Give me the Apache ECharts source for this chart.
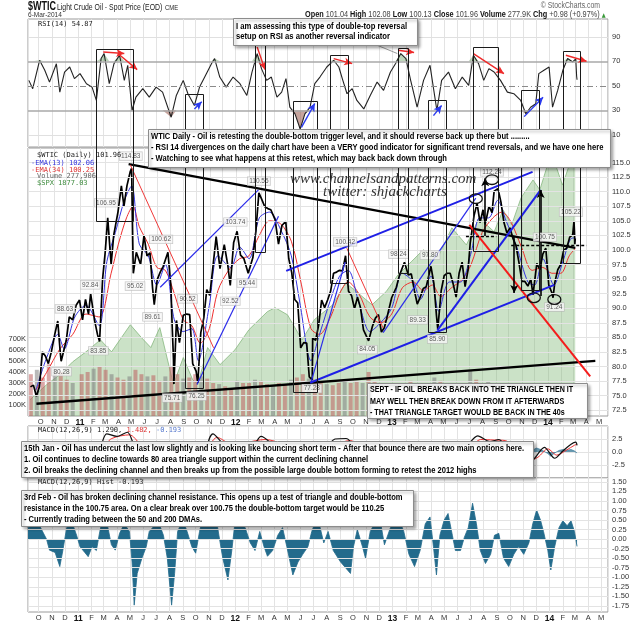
<!DOCTYPE html>
<html><head><meta charset="utf-8"><title>$WTIC Light Crude Oil</title>
<script src="https://cdn.jsdelivr.net/npm/echarts@6/dist/echarts.min.js"></script>
<style>html,body{margin:0;padding:0;background:#fff;}#chart{width:640px;height:622px;}</style>
</head><body><div id="chart"></div>
<script>
// ---------------- DATA ----------------
const X_RANGE = ['2010-09-06', '2014-05-17'];

const price = [
['2010-09-07',76.5],['2010-09-14',76.8],['2010-09-21',74.9],['2010-09-28',76.5],
['2010-10-05',82.5],['2010-10-12',81.8],['2010-10-19',80.5],['2010-10-26',82.5],
['2010-11-03',85.5],['2010-11-10',87.8],['2010-11-16',82.3],['2010-11-18',80.9],['2010-11-30',84.5],
['2010-12-07',88.5],['2010-12-15',88.0],['2010-12-23',90.5],['2010-12-31',91.4],
['2011-01-07',88.0],['2011-01-14',91.5],['2011-01-21',89.0],['2011-01-26',92.5],
['2011-02-04',88.0],['2011-02-11',85.5],['2011-02-16',84.3],['2011-02-23',95.0],
['2011-03-01',99.5],['2011-03-07',105.5],['2011-03-15',97.5],['2011-03-21',102.5],['2011-03-31',106.5],
['2011-04-08',111.0],['2011-04-14',107.5],['2011-04-21',111.0],['2011-04-29',113.5],
['2011-05-02',114.0],['2011-05-05',99.8],['2011-05-06',96.0],['2011-05-13',99.6],['2011-05-23',97.5],['2011-05-31',102.5],
['2011-06-07',99.0],['2011-06-14',99.5],['2011-06-20',93.5],['2011-06-24',90.6],
['2011-07-01',94.9],['2011-07-08',96.2],['2011-07-15',97.2],['2011-07-26',99.6],
['2011-08-02',93.8],['2011-08-05',86.9],['2011-08-08',81.3],['2011-08-09',77.0],['2011-08-15',87.9],['2011-08-22',84.1],['2011-08-31',88.8],
['2011-09-08',89.0],['2011-09-15',88.9],['2011-09-22',80.5],['2011-09-30',79.2],
['2011-10-04',77.2],['2011-10-11',85.8],['2011-10-18',88.3],['2011-10-25',93.2],
['2011-11-01',92.2],['2011-11-08',96.8],['2011-11-16',102.3],['2011-11-25',96.8],
['2011-12-05',100.9],['2011-12-13',97.5],['2011-12-19',93.9],['2011-12-27',101.3],
['2012-01-04',103.2],['2012-01-12',99.1],['2012-01-20',98.5],['2012-01-30',96.0],
['2012-02-10',98.7],['2012-02-17',103.2],['2012-02-24',109.8],
['2012-03-01',108.8],['2012-03-09',107.4],['2012-03-16',107.1],['2012-03-23',106.9],
['2012-04-02',105.2],['2012-04-10',101.0],['2012-04-18',104.2],['2012-04-27',104.9],
['2012-05-04',98.5],['2012-05-11',96.1],['2012-05-18',91.5],['2012-05-25',90.9],
['2012-06-01',83.2],['2012-06-08',84.1],['2012-06-15',84.0],['2012-06-21',78.2],['2012-06-28',77.7],
['2012-06-29',84.9],['2012-07-06',84.5],['2012-07-13',87.1],['2012-07-20',91.4],['2012-07-27',90.1],
['2012-08-03',91.4],['2012-08-10',92.9],['2012-08-17',96.0],['2012-08-24',96.2],['2012-08-31',96.5],
['2012-09-07',96.4],['2012-09-14',99.0],['2012-09-21',92.9],['2012-09-28',92.2],
['2012-10-05',89.9],['2012-10-12',91.9],['2012-10-19',90.1],['2012-10-26',86.3],
['2012-11-07',84.4],['2012-11-16',86.9],['2012-11-23',88.3],['2012-11-30',88.9],
['2012-12-07',85.9],['2012-12-14',86.7],['2012-12-21',88.7],['2012-12-31',91.8],
['2013-01-11',93.6],['2013-01-18',95.6],['2013-01-30',97.9],
['2013-02-08',95.7],['2013-02-15',95.9],['2013-02-22',93.1],['2013-03-01',90.7],
['2013-03-08',91.9],['2013-03-15',93.4],['2013-03-22',93.7],['2013-04-02',97.2],
['2013-04-09',94.2],['2013-04-15',88.7],['2013-04-18',86.4],['2013-04-26',93.0],
['2013-05-03',95.6],['2013-05-10',96.0],['2013-05-17',96.0],['2013-05-24',94.2],['2013-05-31',91.9],
['2013-06-07',96.0],['2013-06-14',97.9],['2013-06-21',93.7],['2013-06-28',96.6],
['2013-07-03',101.2],['2013-07-12',105.9],['2013-07-19',108.0],['2013-07-26',104.7],
['2013-08-02',106.9],['2013-08-07',104.4],['2013-08-16',107.5],['2013-08-23',106.4],['2013-08-28',110.1],
['2013-09-06',110.5],['2013-09-13',108.2],['2013-09-20',104.7],['2013-09-27',102.9],
['2013-10-04',103.8],['2013-10-11',102.0],['2013-10-18',100.8],['2013-10-25',97.9],
['2013-11-01',94.6],['2013-11-08',94.6],['2013-11-15',93.8],['2013-11-22',95.0],['2013-11-27',92.3],
['2013-12-06',97.7],['2013-12-13',96.6],['2013-12-20',99.3],['2013-12-27',100.3],
['2014-01-03',93.96],['2014-01-10',92.7],['2014-01-13',91.8],['2014-01-17',94.4],['2014-01-24',96.6],['2014-01-31',97.5],
['2014-02-07',100.0],['2014-02-14',100.3],['2014-02-21',102.2],['2014-02-28',102.6],
['2014-03-03',104.9],['2014-03-04',103.3],['2014-03-05',101.0],['2014-03-06',101.96]
];

const ema13 = [
['2010-09-20',76],['2010-10-15',81.5],['2010-11-10',85.5],['2010-11-25',83],['2010-12-20',88.5],
['2011-01-15',90.5],['2011-02-15',87],['2011-03-05',98],['2011-03-25',103],['2011-04-15',108.5],
['2011-05-02',111],['2011-05-20',101],['2011-06-10',99],['2011-06-30',94],['2011-07-20',97.5],
['2011-08-10',88],['2011-08-31',86],['2011-09-20',86.5],['2011-10-05',81],['2011-10-31',90.5],
['2011-11-20',99],['2011-12-20',97],['2012-01-10',100.5],['2012-02-01',98.5],['2012-02-25',105.5],
['2012-03-20',106.5],['2012-04-15',103.5],['2012-05-10',99],['2012-05-31',90.5],['2012-06-25',81],
['2012-07-15',85.5],['2012-08-10',91.5],['2012-08-31',95.5],['2012-09-20',96.5],['2012-10-15',91],
['2012-11-10',86],['2012-12-05',87.5],['2012-12-31',90],['2013-01-25',96],['2013-02-20',94.5],
['2013-03-08',91.5],['2013-04-02',95.5],['2013-04-20',89.5],['2013-05-15',94.5],['2013-06-10',94.5],
['2013-07-05',99.5],['2013-07-25',105.5],['2013-08-15',105.5],['2013-09-05',108.5],['2013-09-25',105],
['2013-10-20',100.5],['2013-11-15',94.5],['2013-12-01',94],['2013-12-20',98.5],['2014-01-15',94],
['2014-02-05',98],['2014-02-25',102],['2014-03-06',102.06]
];

const ema34 = [
['2010-09-20',76],['2010-10-15',79],['2010-11-15',83],['2010-12-15',85.5],['2011-01-15',89],
['2011-02-15',88.5],['2011-03-15',96],['2011-04-01',101],['2011-04-20',105.5],['2011-05-05',107.5],
['2011-05-20',104],['2011-06-10',101],['2011-06-30',97],['2011-07-20',96.5],['2011-08-10',92.5],
['2011-08-31',88],['2011-09-20',87],['2011-10-10',84],['2011-10-31',86.5],['2011-11-20',93],
['2011-12-15',96.5],['2012-01-10',98.5],['2012-02-01',99],['2012-02-25',102.5],['2012-03-20',105],
['2012-04-15',104.5],['2012-05-10',101.5],['2012-05-31',95],['2012-06-25',86.5],['2012-07-15',85.5],
['2012-08-10',88.5],['2012-08-31',92.5],['2012-09-20',94.5],['2012-10-15',92.5],['2012-11-10',88.5],
['2012-12-05',87.5],['2012-12-31',89],['2013-01-25',93.5],['2013-02-20',94.5],['2013-03-15',93],
['2013-04-05',94],['2013-04-25',92],['2013-05-20',93.5],['2013-06-15',95],['2013-07-05',97.5],
['2013-07-31',103],['2013-08-25',105.5],['2013-09-15',106.5],['2013-10-05',105],['2013-10-31',100.5],
['2013-11-25',96.5],['2013-12-20',97],['2014-01-10',96],['2014-01-31',96],['2014-02-20',99],['2014-03-06',100.25]
];

const volumeK = [
['2010-09-08',380],['2010-09-22',420],['2010-10-06',350],['2010-10-20',470],['2010-11-03',430],['2010-11-17',400],['2010-12-01',330],['2010-12-15',300],
['2011-01-05',380],['2011-01-19',400],['2011-02-02',430],['2011-02-16',450],['2011-03-02',420],['2011-03-16',380],['2011-03-30',350],['2011-04-13',330],
['2011-04-27',360],['2011-05-11',420],['2011-05-25',380],['2011-06-08',360],['2011-06-22',370],['2011-07-06',320],['2011-07-20',360],['2011-08-03',450],
['2011-08-17',380],['2011-08-31',340],['2011-09-14',350],['2011-09-28',380],['2011-10-12',360],['2011-10-26',340],['2011-11-09',300],['2011-11-23',290],
['2011-12-07',270],['2011-12-21',250],['2012-01-04',320],['2012-01-18',300],['2012-02-01',300],['2012-02-15',330],['2012-02-29',320],['2012-03-14',290],
['2012-03-28',280],['2012-04-11',300],['2012-04-25',290],['2012-05-09',330],['2012-05-23',350],['2012-06-06',380],['2012-06-20',340],['2012-07-04',330],
['2012-07-18',300],['2012-08-01',290],['2012-08-15',280],['2012-08-29',300],['2012-09-12',330],['2012-09-26',300],['2012-10-10',320],['2012-10-24',300],
['2012-11-07',400],['2012-11-21',310],['2012-12-05',280],['2012-12-19',260],['2013-01-02',290],['2013-01-16',300],['2013-01-30',300],['2013-02-13',320],
['2013-02-27',290],['2013-03-13',280],['2013-03-27',300],['2013-04-10',350],['2013-04-24',320],['2013-05-08',290],['2013-05-22',280],['2013-06-05',280],
['2013-06-19',300],['2013-07-03',420],['2013-07-17',330],['2013-07-31',300],['2013-08-14',310],['2013-08-28',290],['2013-09-11',280],['2013-09-25',270],
['2013-10-09',280],['2013-10-23',300],['2013-11-06',270],['2013-11-20',260],['2013-12-04',250],['2013-12-18',260],['2014-01-01',290],['2014-01-15',280],
['2014-01-29',300],['2014-02-12',290],['2014-02-26',280],['2014-03-06',278]
];

const spx = [
['2010-09-06',1007],['2010-10-15',1060],['2010-11-15',1095],['2010-12-15',1140],['2011-01-15',1175],['2011-02-18',1217],
['2011-03-16',1175],['2011-04-29',1270],['2011-05-25',1225],['2011-06-16',1190],['2011-07-07',1260],['2011-08-08',1060],
['2011-08-31',1155],['2011-09-22',1077],['2011-10-04',1060],['2011-10-27',1190],['2011-11-25',1130],['2011-12-30',1182],
['2012-02-01',1253],['2012-03-15',1316],['2012-04-02',1330],['2012-05-01',1305],['2012-06-04',1217],['2012-07-03',1288],
['2012-08-15',1340],['2012-09-14',1417],['2012-10-05',1392],['2012-11-15',1340],['2012-12-18',1386],['2013-01-15',1445],
['2013-02-15',1491],['2013-03-15',1533],['2013-04-18',1505],['2013-05-21',1610],['2013-06-24',1550],['2013-07-24',1645],
['2013-08-28',1596],['2013-09-18',1673],['2013-10-08',1620],['2013-10-30',1715],['2013-11-27',1778],['2013-12-13',1743],
['2013-12-31',1830],['2014-01-15',1848],['2014-02-04',1760],['2014-02-20',1830],['2014-03-06',1877.03]
];

const rsi14 = [
['2010-09-08',54.4],['2010-09-17',47.6],['2010-10-03',70.8],['2010-10-15',62.6],['2010-10-26',53],['2010-11-11',68],
['2010-11-19',44.8],['2010-11-30',61.2],['2010-12-12',65.3],['2010-12-23',55.8],['2011-01-05',59.9],['2011-01-20',51.7],
['2011-02-02',48.9],['2011-02-12',38],['2011-02-23',72.2],['2011-03-02',76.3],['2011-03-14',51.7],['2011-03-25',68.1],
['2011-04-07',74.9],['2011-04-18',54.4],['2011-04-26',66.7],['2011-05-06',29.8],['2011-05-15',40.7],['2011-05-31',47.6],
['2011-06-15',40.7],['2011-07-01',48.9],['2011-07-16',44.8],['2011-08-05',24.3],['2011-08-17',42.1],['2011-09-02',54.4],
['2011-09-13',43.5],['2011-09-28',33.9],['2011-10-10',48.9],['2011-10-22',57.1],['2011-11-07',68.1],['2011-11-14',72.2],
['2011-11-26',57.1],['2011-12-11',48.9],['2011-12-27',57.1],['2012-01-12',51.7],['2012-01-28',42.1],['2012-02-09',61.2],
['2012-02-21',76.3],['2012-03-02',64],['2012-03-14',54.4],['2012-03-25',57.1],['2012-04-07',40.7],['2012-04-18',44.8],
['2012-04-28',55.8],['2012-05-07',32.5],['2012-05-19',27],['2012-05-31',14.7],['2012-06-11',27],['2012-06-23',32.5],
['2012-07-04',51.7],['2012-07-16',57.1],['2012-08-01',65.3],['2012-08-17',70.8],['2012-08-29',65.3],['2012-09-06',55.8],
['2012-09-17',43.5],['2012-09-29',47.6],['2012-10-10',38],['2012-10-26',31.1],['2012-11-10',42.1],['2012-11-26',53],
['2012-12-11',46.2],['2012-12-27',61.2],['2013-01-08',68.1],['2013-01-20',76.3],['2013-02-01',72.2],['2013-02-12',54.4],
['2013-02-27',32.5],['2013-03-14',54.4],['2013-03-29',66.7],['2013-04-14',29.8],['2013-04-25',54.4],['2013-05-11',61.2],
['2013-05-27',47.6],['2013-06-12',57.1],['2013-06-27',50.3],['2013-07-08',74.9],['2013-07-20',68.1],['2013-08-01',54.4],
['2013-08-13',64],['2013-08-25',61.2],['2013-09-09',54.4],['2013-09-25',44.8],['2013-10-10',43.5],['2013-10-26',38],
['2013-11-07',27],['2013-11-18',32.5],['2013-11-30',35.3],['2013-12-07',59.9],['2013-12-19',62.6],['2013-12-31',65.3],
['2014-01-08',32.5],['2014-01-20',46.2],['2014-02-01',62.6],['2014-02-12',72.2],['2014-02-24',69.4],['2014-03-03',72],
['2014-03-05',58],['2014-03-06',54.87]
];

const macdLine = [
['2010-09-15',0.3],['2010-10-15',1.8],['2010-11-15',1.2],['2010-12-15',1.8],['2011-01-15',1.6],['2011-02-15',0.2],
['2011-03-08',3.5],['2011-04-01',3.0],['2011-04-25',3.8],['2011-05-15',0.5],['2011-06-15',-1.5],['2011-07-15',-0.3],
['2011-08-15',-3.8],['2011-09-15',-1.8],['2011-10-10',-2.2],['2011-11-10',3.5],['2011-12-15',1.0],['2012-01-10',2.0],
['2012-02-10',1.2],['2012-03-01',3.0],['2012-04-01',1.2],['2012-05-01',-0.2],['2012-06-01',-4.0],['2012-06-28',-4.8],
['2012-07-20',-1.0],['2012-08-20',2.5],['2012-09-15',2.6],['2012-10-15',-0.5],['2012-11-10',-2.2],['2012-12-10',-0.8],
['2013-01-10',1.2],['2013-02-01',2.0],['2013-03-01',-0.8],['2013-04-01',0.5],['2013-04-20',-1.8],['2013-05-15',0.2],
['2013-06-15',0.5],['2013-07-18',3.1],['2013-08-15',2.0],['2013-09-05',2.4],['2013-10-01',-0.3],['2013-11-01',-2.5],
['2013-11-25',-1.4],['2013-12-20',0.9],['2014-01-13',-1.2],['2014-02-01',0.2],['2014-02-20',1.5],['2014-03-03',1.9],['2014-03-06',1.29]
];
const macdSignal = [
['2010-09-15',0.2],['2010-10-25',1.4],['2010-12-01',1.4],['2011-01-15',1.6],['2011-02-20',0.8],['2011-03-20',2.6],
['2011-04-30',3.3],['2011-05-25',1.5],['2011-06-25',-0.8],['2011-07-25',-0.4],['2011-08-25',-2.6],['2011-09-25',-2.0],
['2011-10-20',-0.5],['2011-11-20',2.8],['2011-12-25',1.5],['2012-01-25',1.8],['2012-03-10',2.4],['2012-04-15',1.6],
['2012-05-15',-0.8],['2012-06-20',-3.8],['2012-07-25',-2.0],['2012-08-25',1.4],['2012-09-25',2.2],['2012-10-25',0.2],
['2012-11-25',-1.6],['2012-12-25',-0.6],['2013-01-25',1.2],['2013-02-25',1.0],['2013-03-25',-0.2],['2013-04-25',-0.8],
['2013-05-25',0.0],['2013-06-25',0.4],['2013-07-25',2.4],['2013-08-25',2.3],['2013-09-20',2.2],['2013-10-15',0.5],
['2013-11-10',-1.8],['2013-12-05',-1.0],['2013-12-28',0.6],['2014-01-18',-0.6],['2014-02-10',0.4],['2014-02-28',1.3],['2014-03-06',1.482]
];

const macdHist = [
['2010-09-06',0.3],['2010-09-17',0.45],['2010-10-03',0.35],['2010-10-19',0.0],['2010-10-26',-0.29],['2010-11-08',-0.35],
['2010-11-19',-0.72],['2010-11-26',-0.3],['2010-12-05',0.3],['2010-12-17',0.45],['2010-12-28',0.1],['2011-01-05',-0.2],
['2011-01-16',-0.35],['2011-01-24',-0.46],['2011-02-02',-0.2],['2011-02-12',-0.3],['2011-02-20',0.2],['2011-02-28',0.6],
['2011-03-09',0.4],['2011-03-19',-0.15],['2011-03-28',-0.29],['2011-04-07',0.15],['2011-04-18',0.4],['2011-04-30',0.2],
['2011-05-06',-0.6],['2011-05-11',-1.73],['2011-05-18',-0.9],['2011-05-29',-0.5],['2011-06-08',-0.2],['2011-06-15',0.2],
['2011-06-27',0.35],['2011-07-08',0.4],['2011-07-18',0.1],['2011-07-27',-0.5],['2011-08-06',-1.73],['2011-08-13',-0.9],
['2011-08-20',0.2],['2011-09-01',0.5],['2011-09-11',0.2],['2011-09-22',-0.2],['2011-10-01',-0.37],['2011-10-10',0.2],
['2011-10-22',0.8],['2011-11-03',1.0],['2011-11-14',0.8],['2011-11-24',0.1],['2011-12-03',-0.5],['2011-12-15',-1.07],
['2011-12-24',-0.3],['2012-01-01',0.5],['2012-01-12',0.5],['2012-01-24',0.3],['2012-02-05',-0.1],['2012-02-16',-0.3],
['2012-02-27',0.2],['2012-03-08',-0.2],['2012-03-16',-0.45],['2012-03-28',-0.3],['2012-04-09',0.1],['2012-04-20',0.3],
['2012-04-30',-0.2],['2012-05-14',-0.94],['2012-05-26',-0.6],['2012-06-06',-0.4],['2012-06-18',-0.2],['2012-06-27',0.2],
['2012-07-07',0.5],['2012-07-16',0.32],['2012-07-25',-0.1],['2012-08-04',0.2],['2012-08-16',-0.3],['2012-09-02',-0.6],
['2012-09-25',-0.9],['2012-10-02',-0.2],['2012-10-11',0.25],['2012-10-23',-0.2],['2012-10-30',-0.5],['2012-11-10',0.2],
['2012-11-22',0.45],['2012-12-03',0.5],['2012-12-13',-0.15],['2012-12-27',0.3],['2013-01-08',0.5],['2013-01-20',0.4],
['2013-01-27',0.2],['2013-02-08',-0.4],['2013-02-21',-0.72],['2013-03-06',-0.3],['2013-03-18',0.4],['2013-03-29',0.58],
['2013-04-06',-0.2],['2013-04-13',-0.94],['2013-04-21',0.1],['2013-05-01',0.5],['2013-05-10',0.67],['2013-05-20',0.1],
['2013-05-27',-0.3],['2013-06-08',-0.3],['2013-06-17',0.05],['2013-06-26',0.3],['2013-07-06',0.94],['2013-07-15',0.4],
['2013-07-24',-0.3],['2013-08-05',-0.64],['2013-08-17',-0.4],['2013-08-26',0.1],['2013-09-05',0.15],['2013-09-16',-0.5],
['2013-09-28',-0.72],['2013-10-10',-0.4],['2013-10-21',-0.2],['2013-11-02',-0.4],['2013-11-14',-0.1],['2013-11-23',0.4],
['2013-12-02',0.76],['2013-12-11',0.5],['2013-12-18',0.2],['2013-12-28',-0.3],['2014-01-04',-0.81],['2014-01-13',-0.2],
['2014-01-23',0.3],['2014-02-01',0.48],['2014-02-11',0.35],['2014-02-20',0.48],['2014-02-28',0.2],['2014-03-06',-0.193]
];

// price labels shown next to peaks / troughs: [date, price position, text]
const peakLabels = [
['2011-04-30',116.1,'114.83'],['2011-03-03',108.1,'106.95'],['2011-01-25',94.0,'92.84'],['2010-11-27',89.9,'88.63'],
['2010-11-19',79.1,'80.28'],['2011-02-13',82.7,'83.85'],['2011-05-10',93.8,'95.02'],['2011-06-20',88.5,'89.61'],
['2011-07-10',101.8,'100.62'],['2011-08-05',74.6,'75.71'],['2011-09-10',91.6,'90.52'],['2011-10-01',74.9,'76.25'],
['2011-12-31',104.8,'103.74'],['2011-12-19',91.2,'92.52'],['2012-01-27',94.3,'95.44'],['2012-02-24',111.8,'110.55'],
['2012-06-27',76.2,'77.28'],['2012-09-13',101.4,'100.42'],['2012-11-04',82.9,'84.05'],['2013-01-16',99.3,'98.24'],
['2013-03-31',99.1,'97.80'],['2013-03-02',88.0,'89.33'],['2013-04-17',84.7,'85.90'],['2013-08-23',113.4,'112.24'],
['2013-12-25',102.2,'100.75'],['2014-01-16',90.2,'91.24'],['2014-02-24',106.5,'105.22']
];

// tick labels
const priceTicks = [72.5,75,77.5,80,82.5,85,87.5,90,92.5,95,97.5,100,102.5,105,107.5,110,112.5,115];
const histTicks = [1.5,1.25,1,0.75,0.5,0.25,0,-0.25,-0.5,-0.75,-1,-1.25,-1.5,-1.75];
const rsiLevels = [10,30,50,70,90];

// annotation geometry in data coordinates
const blackTrend = [[['2011-04-25',114.75],['2014-03-06',100.34]], [['2010-09-21',73.6],['2014-04-22',80.96]]];
const blueThin = [[['2011-07-08',93.6],['2012-02-23',110.3]], [['2011-10-02',76.9],['2012-04-10',105.8]],
  [['2012-06-26',77.5],['2012-09-13',97.9]], [['2012-12-11',85.8],['2013-07-16',108.9]]];
const blueThick = [[['2012-04-28',96.4],['2013-11-26',113.4]], [['2012-06-23',77.2],['2014-01-16',94.0]],
  [['2013-04-17',86.2],['2013-12-15',110.3]]];
const redThin = [[['2011-04-29',114.6],['2011-11-10',83.2]], [['2012-09-17',100.3],['2012-12-11',86.6]]];
const redThick = [[['2013-08-23',112.6],['2014-06-07',85.1]], [['2013-07-01',104.3],['2014-04-10',78.3]]];
const dashedLevels = [[['2013-10-07',100.75],['2014-04-01',100.75]], [['2013-06-23',102.4],['2013-09-02',102.4]]];
const targetArrows = [[['2013-12-15',92.1],['2013-12-15',110.3]], [['2013-10-14',102.4],['2013-10-14',92.6]],
  [['2013-08-07',102.4],['2013-08-07',112.3]]];
const circles = [['2013-07-16',108.8],['2013-08-23',112.06],['2013-11-29',91.8],['2014-01-16',91.5]];
// boxes: [from, to, RSI top, price bottom]
const boxes = [
['2011-02-12','2011-05-06',80.4,105.0],['2011-09-07','2011-10-18',42.9,76.2],['2012-02-15','2012-03-08',95,99.7],
['2012-05-14','2012-07-08',37.4,75.6],['2012-08-09','2012-09-21',74.9,94.3],['2013-01-14','2013-02-07',80.9,96.1],
['2013-03-25','2013-05-09',38.0,85.9],['2013-07-07','2013-09-07',81.3,99.8],['2013-10-26','2013-12-11',46.2,93.0],
['2014-02-01','2014-03-17',78.2,97.8]
];
const rsiRedArrows = [[['2011-02-28',77.6],['2011-04-18',76.3]], [['2011-04-03',76.3],['2011-05-18',63.2]],
  [['2012-02-21',81.7],['2012-03-10',63.2]], [['2012-08-17',72.2],['2012-09-29',68.1]],
  [['2013-01-14',79],['2013-02-20',77.1]], [['2013-07-08',76.3],['2013-09-17',59.9]], [['2014-02-08',74.9],['2014-03-28',70]]];
const rsiBlueArrows = [[['2011-09-28',31.1],['2011-10-15',37]], [['2012-06-03',16],['2012-07-04',35.5]],
  [['2013-04-06',25.6],['2013-04-25',33.9]], [['2013-11-03',24.8],['2013-12-17',40.7]]];
const rsiPointer = [[['2012-11-26',83.1],['2013-01-12',76.3]]];

// ---------------- CHART ----------------
function t(s){const p=s.split('-');return new Date(+p[0],+p[1]-1,+p[2]).getTime();}
const DAY = 864e5;
function pairs(a){return a.map(d=>[t(d[0]),d[1]]);}
function monthLabel(v){const d=new Date(v);const m=d.getMonth();
  if(m===0) return '{y|'+String(d.getFullYear()).slice(2)+'}';
  return 'JFMAMJJASOND'.charAt(m);}
function xAx(gi,show){return {type:'time',gridIndex:gi,min:t(X_RANGE[0]),max:t(X_RANGE[1]),splitNumber:44,
  minInterval:28*DAY,maxInterval:31*DAY,axisLine:{show:false},axisTick:{show:false},
  splitLine:{show:true,lineStyle:{color:'#e3e3e3',width:1}},
  axisLabel:{show:show,formatter:monthLabel,fontSize:7.5,color:'#333',fontFamily:'Liberation Sans',margin:2,
    showMinLabel:false,showMaxLabel:false,hideOverlap:false,
    rich:{y:{fontWeight:'bold',fontSize:8.5,color:'#111',fontFamily:'Liberation Sans'}}}};}
function segs(list, style, endSym){
  return list.map(a=>[
    {coord:[t(a[0][0]),a[0][1]], symbol:'none', lineStyle:style},
    {coord:[t(a[1][0]),a[1][1]], symbol:endSym||'none', symbolSize:endSym?[6,8]:0, lineStyle:style}]);
}
function tickSeries(xi,yi,ticks,digits){
  return {type:'line',xAxisIndex:xi,yAxisIndex:yi,data:[],z:0,silent:true,
    markLine:{silent:true,symbol:'none',animation:false,
      lineStyle:{color:'#e3e3e3',width:1,type:'solid'},
      label:{show:true,position:'end',distance:4,formatter:p=>Number(p.value).toFixed(digits),
        fontSize:7.5,color:'#333',fontFamily:'Liberation Sans'},
      data:ticks.map(v=>({yAxis:v}))}};
}

const gridBase = {show:true,borderColor:'#9a9a9a',borderWidth:1,backgroundColor:'#fff',containLabel:false,outerBoundsMode:'none'};
const option = {
  animation:false,
  backgroundColor:'#fff',
  textStyle:{fontFamily:'Liberation Sans'},
  grid:[
    Object.assign({left:28,right:32,top:19,height:128},gridBase),
    Object.assign({left:28,right:32,top:148,height:268},gridBase),
    Object.assign({left:28,right:32,top:426,height:52},gridBase),
    Object.assign({left:28,right:32,top:478,height:134},gridBase)
  ],
  xAxis:[xAx(0,false),xAx(1,true),xAx(2,false),xAx(3,true)],
  yAxis:[
    {gridIndex:0,position:'right',min:0,max:104.5,interval:10,axisLine:{show:false},axisTick:{show:false},splitLine:{show:false},
      axisLabel:{fontSize:7.5,color:'#333',margin:4,formatter:v=>(v%20===10?String(v):'')}},
    {gridIndex:1,position:'right',min:71.5,max:117.5,axisLine:{show:false},axisTick:{show:false},splitLine:{show:false},axisLabel:{show:false}},
    {gridIndex:1,position:'left',min:0,max:2436,interval:100,axisLine:{show:false},axisTick:{show:false},splitLine:{show:false},
      axisLabel:{fontSize:7.5,color:'#333',margin:2,formatter:v=>(v>=100&&v<=700?v+'K':'')}},
    {gridIndex:1,position:'right',min:950,max:1890,show:false},
    {gridIndex:2,position:'right',min:-5,max:5,interval:2.5,axisLine:{show:false},axisTick:{show:false},
      splitLine:{show:true,lineStyle:{color:'#e3e3e3'}},
      axisLabel:{fontSize:7.5,color:'#333',margin:4,formatter:v=>(Math.abs(v)>=5?'':v.toFixed(1))}},
    {gridIndex:3,position:'right',min:-1.91,max:1.6,axisLine:{show:false},axisTick:{show:false},splitLine:{show:false},axisLabel:{show:false}}
  ],
  series:[
    tickSeries(1,1,priceTicks,1),
    tickSeries(3,5,histTicks,2),
    // RSI panel
    {type:'line',xAxisIndex:0,yAxisIndex:0,data:pairs(rsi14).map(d=>[d[0],Math.max(d[1],70)]),symbol:'none',z:1,silent:true,
      lineStyle:{width:0},areaStyle:{origin:70,color:'rgba(70,140,60,0.5)'}},
    {type:'line',xAxisIndex:0,yAxisIndex:0,data:pairs(rsi14).map(d=>[d[0],Math.min(d[1],30)]),symbol:'none',z:1,silent:true,
      lineStyle:{width:0},areaStyle:{origin:30,color:'rgba(140,70,55,0.7)'}},
    {type:'line',name:'RSI(14)',xAxisIndex:0,yAxisIndex:0,data:pairs(rsi14),symbol:'none',z:3,
      lineStyle:{color:'#222',width:1.1},
      markLine:{silent:true,symbol:'none',animation:false,label:{show:false},
        data:[
          {yAxis:10,lineStyle:{color:'#e0e0e0',width:1,type:'solid'}},
          {yAxis:90,lineStyle:{color:'#e0e0e0',width:1,type:'solid'}},
          {yAxis:30,lineStyle:{color:'#a8a8a8',width:1.6,type:'solid'}},
          {yAxis:70,lineStyle:{color:'#a8a8a8',width:1.6,type:'solid'}},
          {yAxis:50,lineStyle:{color:'#8a8a8a',width:1,type:[6,3,1,3]}}
        ].concat(segs(rsiRedArrows,{color:'#ee2a2a',width:1.4,type:'solid'},'arrow'))
         .concat(segs(rsiBlueArrows,{color:'#2a3aee',width:1.4,type:'solid'},'arrow'))
         .concat(segs(rsiPointer,{color:'#9a9a9a',width:1,type:'solid'}))}},
    // main panel
    {type:'line',name:'$SPX',xAxisIndex:1,yAxisIndex:3,data:pairs(spx),symbol:'none',z:1,silent:true,
      lineStyle:{color:'#86b77f',width:0.8},areaStyle:{color:'rgba(128,184,118,0.58)'}},
    {type:'bar',name:'Volume',xAxisIndex:1,yAxisIndex:2,data:pairs(volumeK),barWidth:4,z:2,silent:true,
      itemStyle:{color:p=>(p.dataIndex%3===1?'rgba(128,128,128,0.55)':'rgba(190,95,95,0.55)')}},
    {type:'line',name:'EMA(34)',xAxisIndex:1,yAxisIndex:1,data:pairs(ema34),symbol:'none',z:3,smooth:0.3,
      lineStyle:{color:'#ee3030',width:1}},
    {type:'line',name:'EMA(13)',xAxisIndex:1,yAxisIndex:1,data:pairs(ema13),symbol:'none',z:3,smooth:0.3,
      lineStyle:{color:'#3535e0',width:1}},
    {type:'line',name:'$WTIC',xAxisIndex:1,yAxisIndex:1,data:pairs(price),symbol:'none',z:4,
      lineStyle:{color:'#000',width:1.7},
      markLine:{silent:true,symbol:'none',animation:false,label:{show:false},
        data:[].concat(segs(blackTrend,{color:'#000',width:2.3,type:'solid'}))
          .concat(segs(blueThin,{color:'#2b2bea',width:1.2,type:'solid'}))
          .concat(segs(blueThick,{color:'#1f1fe6',width:2,type:'solid'}))
          .concat(segs(redThin,{color:'#f03a3a',width:1,type:'solid'}))
          .concat(segs(redThick,{color:'#f41c1c',width:2,type:'solid'}))
          .concat(segs(dashedLevels,{color:'#000',width:1.3,type:[3,2]}))
          .concat(segs(targetArrows,{color:'#000',width:1.6,type:'solid'},'arrow'))}},
    {type:'scatter',xAxisIndex:1,yAxisIndex:1,symbol:'rect',symbolSize:1,z:6,silent:true,
      itemStyle:{color:'rgba(0,0,0,0)'},
      data:peakLabels.map(p=>({value:[t(p[0]),p[1]],name:p[2]})),
      label:{show:true,position:'inside',formatter:'{b}',fontSize:6.5,fontFamily:'Liberation Sans',color:'#333',
        backgroundColor:'#f7f7f7',borderColor:'#b5b5b5',borderWidth:0.6,padding:[1,1.5,0,1.5]}},
    // MACD panel
    {type:'line',xAxisIndex:2,yAxisIndex:4,data:pairs(macdHist),symbol:'none',z:1,silent:true,
      lineStyle:{color:'#2a6f90',width:0.6},areaStyle:{color:'#2a6f90'}},
    {type:'line',name:'Signal',xAxisIndex:2,yAxisIndex:4,data:pairs(macdSignal),symbol:'none',z:2,smooth:0.3,
      lineStyle:{color:'#ee3333',width:1}},
    {type:'line',name:'MACD',xAxisIndex:2,yAxisIndex:4,data:pairs(macdLine),symbol:'none',z:3,smooth:0.3,
      lineStyle:{color:'#111',width:1.2}},
    // Histogram panel
    {type:'line',name:'Hist',xAxisIndex:3,yAxisIndex:5,data:pairs(macdHist),symbol:'none',z:2,silent:true,
      lineStyle:{color:'#236b8c',width:0.8},areaStyle:{color:'#236b8c',opacity:1}}
  ]
};

const chart = echarts.init(document.getElementById('chart'), null, {renderer:'canvas', width:640, height:622});
chart.setOption(option);

function px(xi,yi,d,v){return chart.convertToPixel({xAxisIndex:xi,yAxisIndex:yi},[t(d),v]);}
const G = [];
boxes.forEach(b=>{
  const a = px(0,0,b[0],b[2]); const c = px(1,1,b[1],b[3]);
  G.push({type:'rect',z:40,silent:true,shape:{x:Math.round(a[0])+0.5,y:Math.round(a[1])+0.5,width:Math.round(c[0]-a[0]),height:Math.round(c[1]-a[1])},
    style:{fill:'none',stroke:'#1a1a1a',lineWidth:1}});
});
circles.forEach(c=>{
  const p = px(1,1,c[0],c[1]);
  G.push({type:'ellipse',z:40,silent:true,shape:{cx:p[0],cy:p[1],rx:6.5,ry:4.8},style:{fill:'none',stroke:'#111',lineWidth:1.3}});
});
function txt(x,y,text,font,fill,sx,align){
  return {type:'text',x:x,y:y,scaleX:sx||1,z:110,silent:true,
    style:{text:text,font:font,fill:fill,align:align||'left',verticalAlign:'top'}};
}
function note(x,y,w,h,lines,font,sx,lh,ty){
  return {type:'group',x:x,y:y,z:100,silent:true,children:[
    {type:'rect',z:100,shape:{x:0.5,y:0.5,width:w,height:h},
      style:{fill:'#fff',stroke:'#8c8c8c',lineWidth:1,shadowBlur:3,shadowOffsetX:2,shadowOffsetY:2,shadowColor:'rgba(0,0,0,0.35)'}},
    {type:'text',z:101,x:3,y:ty,scaleX:sx,style:{text:lines.join('\n'),font:font,fill:'#000',lineHeight:lh,align:'left',verticalAlign:'top'}}
  ]};
}
const NB = 'bold 8.6px "Liberation Sans"';
G.push(
  txt(28,0.5,'$WTIC','bold 12px "Liberation Sans"','#111',0.75),
  txt(57,2.5,'Light Crude Oil - Spot Price (EOD)','9.2px "Liberation Sans"','#222',0.75),
  txt(165,3.5,'CME','7.6px "Liberation Sans"','#222',0.78),
  txt(28,11,'6-Mar-2014','8px "Liberation Sans"','#333',0.82),
  txt(600,1.5,'© StockCharts.com','8.4px "Liberation Sans"','#666',0.82,'right'),
  {type:'text',x:305,y:10.5,scaleX:0.85,z:110,silent:true,style:{
    text:'{b|Open} 101.04 {b|High} 102.08 {b|Low} 100.13 {b|Close} 101.96 {b|Volume} 277.9K {b|Chg} +0.98 (+0.97%) {g|▲}',
    font:'8.6px "Liberation Sans"',fill:'#444',align:'left',verticalAlign:'top',
    rich:{b:{fontWeight:'bold',fill:'#111',fontSize:8.6,fontFamily:'Liberation Sans'},g:{fill:'#3a9a3a',fontSize:6,fontFamily:'DejaVu Sans'}}}},
  // legends
  txt(38,20.5,'RSI(14) 54.87','7px "DejaVu Sans Mono"','#222'),
  txt(37,152,'$WTIC (Daily) 101.96','7px "DejaVu Sans Mono"','#222'),
  txt(31,159.6,'-EMA(13) 102.06','7px "DejaVu Sans Mono"','#3333dd'),
  txt(31,166.3,'-EMA(34) 100.25','7px "DejaVu Sans Mono"','#dd3333'),
  txt(37,173,'Volume 277,906','7px "DejaVu Sans Mono"','#666'),
  txt(37,179.6,'$SPX 1877.03','7px "DejaVu Sans Mono"','#3d8a3d'),
  {type:'text',x:38,y:426.5,z:110,silent:true,style:{text:'{k|MACD(12,26,9) 1.290,}{r| 1.482,}{u| -0.193}',
    font:'7px "DejaVu Sans Mono"',fill:'#222',align:'left',verticalAlign:'top',
    rich:{k:{fill:'#222',fontSize:7,fontFamily:'DejaVu Sans Mono'},r:{fill:'#dd3333',fontSize:7,fontFamily:'DejaVu Sans Mono'},u:{fill:'#5577cc',fontSize:7,fontFamily:'DejaVu Sans Mono'}}}},
  txt(38,479,'MACD(12,26,9) Hist -0.193','7px "DejaVu Sans Mono"','#222'),
  // watermark
  txt(290,172,'www.channelsandpatterns.com','italic 15px "Liberation Serif"','#333'),
  txt(323,185,'twitter: shjackcharts','italic 15px "Liberation Serif"','#333'),
  // notes
  note(233,18,184,27,['I am assessing this type of double-top reversal','setup on RSI as another reversal indicator'],
    'bold 9.6px "Liberation Sans"',0.8,10,3),
  note(148,129,462,38,['WTIC Daily - Oil is retesting the double-bottom trigger level, and it should reverse back up there but .........',
    '- RSI 14 divergences on the daily chart have been a VERY good indicator for significant trend reversals, and we have one here',
    '- Watching to see what happens at this retest, which may back back down through'],NB,0.88,11.2,2),
  note(367,383,220,35,['SEPT - IF OIL BREAKS BACK INTO THE TRIANGLE THEN IT','MAY WELL THEN BREAK DOWN FROM IT AFTERWARDS',
    '- THAT TRIANGLE TARGET WOULD BE BACK IN THE 40s'],NB,0.83,11.3,1.4),
  note(21,441,512,36,['15th Jan - Oil has undercut the last low slightly and is looking like bouncing short term - After that bounce there are two main options here.',
    '1. Oil continues to decline towards 80 area triangle support within the current declining channel',
    '2. Oil breaks the declining channel and then breaks up from the possible large double bottom forming to retest the 2012 highs'],NB,0.88,11.2,1.7),
  note(21,490,392,36,['3rd Feb - Oil has broken declining channel resistance. This opens up a test of triangle and double-bottom',
    'resistance in the 100.75 area. On a clear break over 100.75 the double-bottom target would be 110.25',
    '- Currently trading between the 50 and 200 DMAs.'],NB,0.88,11,1.8)
);
chart.setOption({graphic:{elements:G}});
</script></body></html>
